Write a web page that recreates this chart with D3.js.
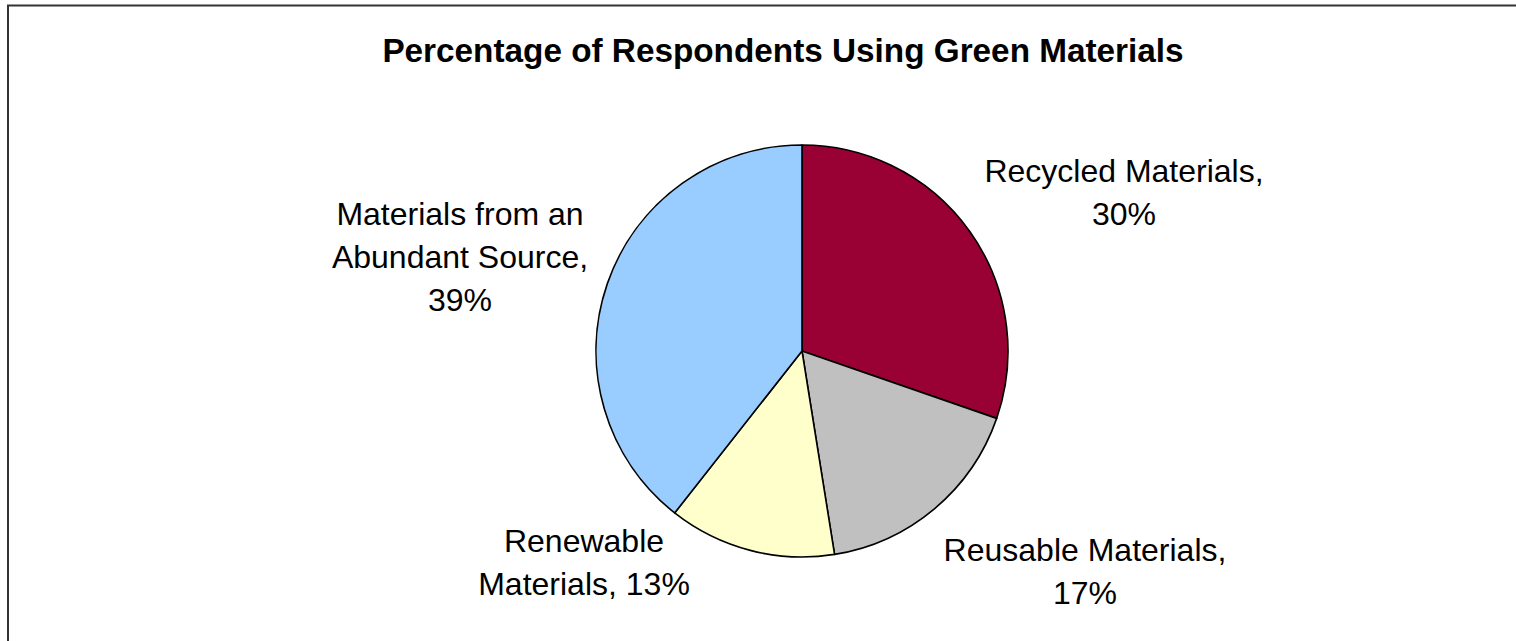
<!DOCTYPE html>
<html>
<head>
<meta charset="utf-8">
<script src="https://cdn.jsdelivr.net/npm/d3@7/dist/d3.min.js"></script>
<style>
  html, body { margin: 0; padding: 0; background: #fff; }
  svg { display: block; }
  text { font-family: Arial, "Liberation Sans", sans-serif; fill: #000; }
</style>
</head>
<body>
<svg id="chart" width="1516" height="641"></svg>
<script>
// Share of respondents by type of green material used
const categories = ["Recycled Materials", "Reusable Materials", "Renewable Materials", "Materials from an Abundant Source"];
const values = [30, 17, 13, 39];
const colors = ["#990033", "#C0C0C0", "#FFFFCC", "#99CCFF"];
const labelLines = [
  ["Recycled Materials,", "30%"],
  ["Reusable Materials,", "17%"],
  ["Renewable", "Materials, 13%"],
  ["Materials from an", "Abundant Source,", "39%"]
];
const title = "Percentage of Respondents Using Green Materials";

const W = 1516, H = 641;
const svg = d3.select("#chart");

// chart area frame (runs off the right and bottom edges)
svg.append("rect")
  .attr("x", 8).attr("y", 5.5)
  .attr("width", W + 10).attr("height", H + 10)
  .attr("fill", "#fff")
  .attr("stroke", "#333").attr("stroke-width", 2);

svg.append("text")
  .attr("x", 783).attr("y", 62)
  .attr("text-anchor", "middle")
  .style("font-size", "33.3px").style("font-weight", "bold")
  .text(title);

const cx = 802, cy = 351, r = 206;
const pie = d3.pie().sort(null).value(d => d)(values);
const arc = d3.arc().innerRadius(0).outerRadius(r);

const g = svg.append("g").attr("transform", `translate(${cx},${cy})`);
g.selectAll("path")
  .data(pie)
  .join("path")
  .attr("d", arc)
  .attr("fill", (d, i) => colors[i])
  .attr("stroke", "#000")
  .attr("stroke-width", 1.6)
  .attr("stroke-linejoin", "round");

// label blocks placed around the pie (centre x, first baseline, relative to pie centre)
const labelPos = [
  [322, -169],
  [283, 210],
  [-218, 201],
  [-342, -126]
];
const lineGap = 43;
labelLines.forEach((lines, i) => {
  const t = g.append("text")
    .attr("text-anchor", "middle")
    .style("font-size", "32px");
  lines.forEach((s, k) => {
    t.append("tspan")
      .attr("x", labelPos[i][0])
      .attr("y", labelPos[i][1] + k * lineGap)
      .text(s);
  });
});
</script>
</body>
</html>
